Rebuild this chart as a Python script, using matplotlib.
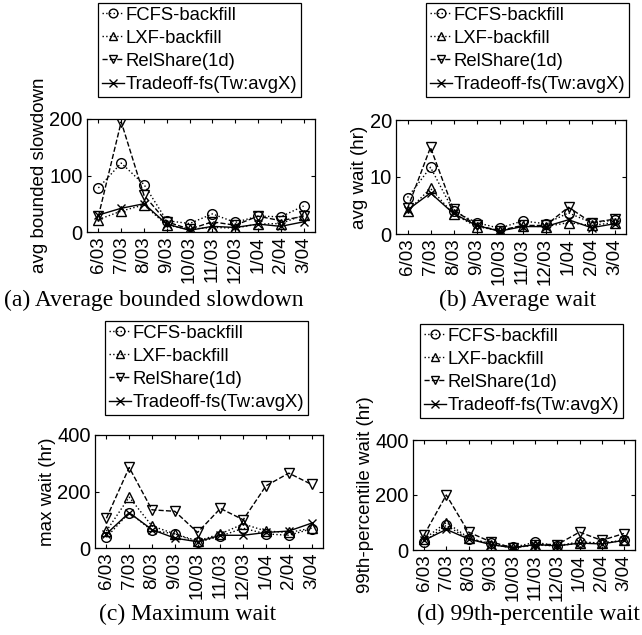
import matplotlib
matplotlib.use('Agg')
import matplotlib.pyplot as plt

months = ['6/03', '7/03', '8/03', '9/03', '10/03', '11/03', '12/03', '1/04', '2/04', '3/04']
labels = ['FCFS-backfill', 'LXF-backfill', 'RelShare(1d)', 'Tradeoff-fs(Tw:avgX)']

# (a) average bounded slowdown
slow_fcfs = [78, 122, 84, 20, 15, 32, 17, 28, 27, 46]
slow_lxf = [22, 37, 48, 12, 5, 8, 7, 14, 15, 30]
slow_rel = [28, 195, 65, 18, 5, 18, 12, 28, 20, 28]
slow_trd = [30, 42, 50, 14, 3, 10, 8, 14, 10, 18]

# (b) average wait (hr)
avgw_fcfs = [6.4, 11.7, 4.0, 2.0, 1.0, 2.3, 1.8, 3.7, 2.0, 2.4]
avgw_lxf = [4.0, 8.0, 3.5, 1.3, 0.6, 1.4, 1.3, 2.0, 1.5, 2.0]
avgw_rel = [4.5, 15.2, 4.3, 1.5, 0.6, 1.5, 1.5, 4.7, 2.0, 2.6]
avgw_trd = [4.2, 7.2, 3.6, 1.5, 0.5, 1.3, 1.3, 2.5, 1.1, 1.8]

# (c) maximum wait (hr)
maxw_fcfs = [38, 125, 62, 50, 20, 42, 70, 50, 45, 68]
maxw_lxf = [60, 180, 78, 50, 25, 50, 85, 60, 55, 70]
maxw_rel = [105, 285, 135, 130, 55, 140, 100, 220, 265, 225]
maxw_trd = [50, 125, 65, 35, 22, 45, 45, 55, 60, 88]

# (d) 99th-percentile wait (hr)
p99_fcfs = [30, 90, 40, 25, 10, 28, 15, 30, 25, 35]
p99_lxf = [40, 100, 45, 20, 8, 18, 15, 25, 25, 35]
p99_rel = [55, 200, 65, 30, 8, 20, 20, 65, 35, 60]
p99_trd = [35, 75, 40, 20, 8, 20, 15, 25, 22, 35]

plt.rcParams['font.family'] = ['Liberation Sans', 'DejaVu Sans']
plt.rcParams['axes.linewidth'] = 0.9

W, H = 642, 635
fig = plt.figure(figsize=(W / 100, H / 100), dpi=100)

styles = [(':', 'o', 7), (':', '^', 7), ('--', 'v', 7), ('-', 'x', 6)]

panels = [
    # axes box (l, t, r, b) px, legend top-left px, caption, caption centre px, ylabel, ymax, data
    ((87, 119, 315, 232), (98, 3), '(a) Average bounded slowdown', (154, 300),
     'avg bounded slowdown', 200, [slow_fcfs, slow_lxf, slow_rel, slow_trd]),
    ((396, 120, 626, 234), (426, 3), '(b) Average wait', (518, 300),
     'avg wait (hr)', 20, [avgw_fcfs, avgw_lxf, avgw_rel, avgw_trd]),
    ((95, 435, 323, 548), (105, 321), '(c) Maximum wait', (188, 614),
     'max wait (hr)', 400, [maxw_fcfs, maxw_lxf, maxw_rel, maxw_trd]),
    ((413, 440, 635, 550), (420, 324), '(d) 99th-percentile wait', (528, 614),
     '99th-percentile wait (hr)', 400, [p99_fcfs, p99_lxf, p99_rel, p99_trd]),
]

x = list(range(1, len(months) + 1))
for box, leg_xy, caption, cap_xy, ylabel, ymax, series in panels:
    l, t, r, b = box
    ax = fig.add_axes([l / W, 1 - b / H, (r - l) / W, (b - t) / H])
    for (ls, mk, ms), ys, lab in zip(styles, series, labels):
        ax.plot(x, ys, color='black', linestyle=ls, marker=mk, markersize=ms,
                markerfacecolor='none', markeredgewidth=1.0, linewidth=1.0, label=lab)
    ax.set_xlim(0.5, len(months) + 0.5)
    ax.set_ylim(0, ymax)
    ax.set_yticks([0, ymax / 2, ymax])
    ax.set_yticklabels([f'{v:g}' for v in [0, ymax / 2, ymax]], fontsize=14.5)
    ax.set_xticks(x)
    ax.set_xticklabels(months, rotation=90, fontsize=13.5)
    ax.tick_params(direction='in', top=True, right=True, length=3, width=0.8, pad=3)
    ax.set_ylabel(ylabel, fontsize=13.5, labelpad=1)
    leg = ax.legend(loc='upper left', bbox_to_anchor=(leg_xy[0] / W, 1 - leg_xy[1] / H),
                    bbox_transform=fig.transFigure, fontsize=13.3, frameon=True,
                    fancybox=False, edgecolor='black', framealpha=1, borderpad=0.2,
                    labelspacing=0.33, handlelength=1.2, handletextpad=0.1,
                    borderaxespad=0, markerscale=0.9)
    leg.get_frame().set_linewidth(0.9)
    fig.text(cap_xy[0] / W, 1 - cap_xy[1] / H, caption, ha='center', va='center',
             fontsize=17, family='Liberation Serif')

fig.savefig('out.png', dpi=100)
